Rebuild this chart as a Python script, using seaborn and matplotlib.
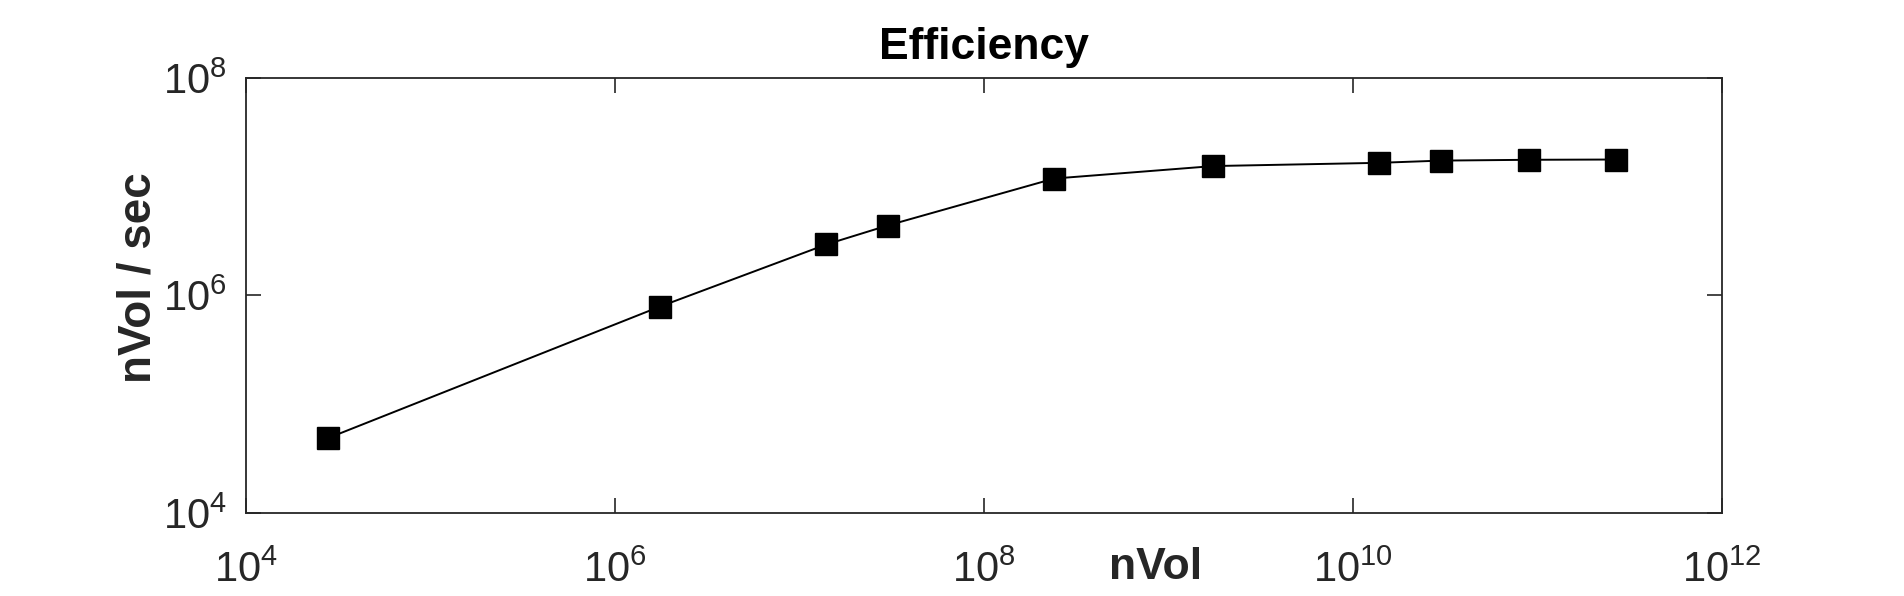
import numpy as np
import pandas as pd
import matplotlib
matplotlib.use("Agg")
import matplotlib.pyplot as plt
import seaborn as sns

# values (log-log)
n_vol = [2.8e4, 1.75e6, 1.4e7, 3.0e7, 2.4e8, 1.75e9, 1.39e10, 3.0e10, 9.0e10, 2.65e11]
vol_per_sec = [4.9e4, 7.9e5, 2.95e6, 4.4e6, 1.19e7, 1.55e7, 1.66e7, 1.74e7, 1.77e7, 1.78e7]

x_ticks = [1e4, 1e6, 1e8, 1e10, 1e12]
y_ticks = [1e4, 1e6, 1e8]

df = pd.DataFrame({"nVol": n_vol, "rate": vol_per_sec})

sns.set_style("ticks")
grey = "#262626"
plt.rcParams["font.family"] = ["Liberation Sans", "DejaVu Sans"]
plt.rcParams["mathtext.fontset"] = "custom"
plt.rcParams["mathtext.rm"] = "Liberation Sans"
plt.rcParams["mathtext.it"] = "Liberation Sans:italic"
plt.rcParams["mathtext.bf"] = "Liberation Sans:bold"

fig = plt.figure(figsize=(19.04, 5.96), dpi=100)
ax = fig.add_axes([0.1292, 0.1393, 0.9044 - 0.1292, 0.8691 - 0.1393])

sns.lineplot(data=df, x="nVol", y="rate", ax=ax, color="black", lw=1.4,
             marker="s", markersize=16, markerfacecolor="black",
             markeredgecolor="black", markeredgewidth=1)

ax.set_xscale("log")
ax.set_yscale("log")
ax.set_xlim(1e4, 1e12)
ax.set_ylim(1e4, 1e8)
ax.set_xticks(x_ticks)
ax.set_yticks(y_ticks)
ax.minorticks_off()

for s in ax.spines.values():
    s.set_visible(True)
    s.set_color(grey)
    s.set_linewidth(1.3)

ax.tick_params(axis="both", which="major", direction="in", length=11, width=1.2,
               colors=grey, labelsize=30, top=True, right=True)
ax.tick_params(axis="x", pad=27)
ax.tick_params(axis="y", pad=14)

ax.set_title("Efficiency", fontsize=32, fontweight="bold", color="black", pad=14)
ax.set_xlabel("nVol", fontsize=32, fontweight="bold", color=grey, va="center")
ax.xaxis.set_label_coords(0.6165, -0.126)
ax.set_ylabel("nVol / sec", fontsize=33, fontweight="bold", color=grey, va="center")
ax.yaxis.set_label_coords(-0.073, 0.54)

fig.savefig("out.png", dpi=100, facecolor="white")
